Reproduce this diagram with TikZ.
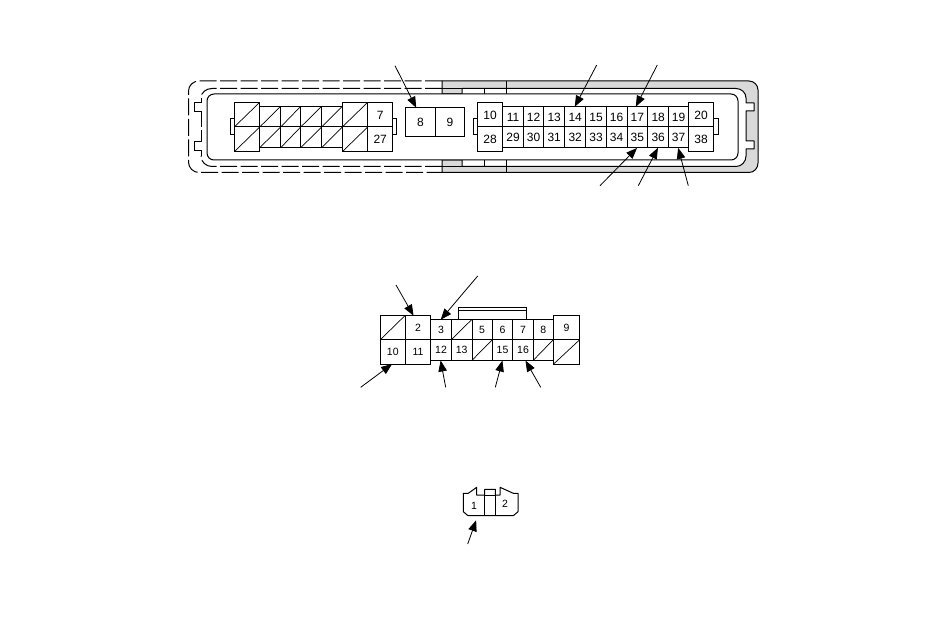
\documentclass[tikz,border=0pt]{standalone}
\usepackage{fontspec}
\setmainfont{Liberation Sans}
\usetikzlibrary{arrows.meta}
\tikzset{
  wire/.style={line width=1pt,black},
  dashline/.style={wire,dash pattern=on 17pt off 3.5pt},
  lead/.style={line width=0.8pt,black,-{Triangle[length=11pt,width=8.5pt]},shorten >=-0.5pt},
  numA/.style={inner sep=0pt,font=\fontsize{12}{12}\selectfont},
  numB/.style={inner sep=0pt,font=\fontsize{10.5}{10.5}\selectfont},
}
% #1 name, #2 x1, #3 y1, #4 x2, #5 y2, #6 label, #7 text style
\newcommand{\pincell}[7]{%
  \draw[wire] (#2,#3) rectangle (#4,#5);
  \node[#7] (#1) at ({(#2+#4)/2},{(#3+#5)/2+0.3}) {#6};
}
\newcommand{\deadcell}[5]{%
  \draw[wire] (#2,#3) rectangle (#4,#5);
  \coordinate (#1) at ({(#2+#4)/2},{(#3+#5)/2});
  \draw[wire,line width=0.7pt] (#2,#5) -- (#4,#3);
}
\begin{document}
\begin{tikzpicture}[x=1pt,y=-1pt]
\useasboundingbox (0,0) rectangle (950,639);
\fill[white] (0,0) rectangle (950,639);
% --- Housing of the upper connector
\draw[wire,fill=black!15,line join=round]
  (442,81) -- (749,81) to[out=0,in=90] (758,90) -- (758,163) to[out=-90,in=0] (749,172.5) -- (442,172.5) -- (442,160)
  -- (462,160) -- (462,166.5) -- (736,166.5) to[out=0,in=-90] (746,156) -- (746,149) -- (754,149) -- (754,141) -- (746,141)
  -- (746,111) -- (754,111) -- (754,103) -- (746,103) -- (746,98) to[out=90,in=0] (736,88.5)
  -- (462,88.5) -- (462,94) -- (442,94) -- cycle;
\draw[wire] (442,88.5) -- (462,88.5) (442,166.5) -- (462,166.5);
\draw[wire] (484,88.5) -- (484,94) (506,81) -- (506,94);
\draw[wire] (484,160) -- (484,166.5) (506,160) -- (506,172.5);
\draw[dashline] (442,81) -- (199,81) to[out=180,in=90] (188.5,91) -- (188.5,162) to[out=-90,in=180] (199,172.5) -- (442,172.5);
\draw[dashline] (442,88.5) -- (212,88.5) to[out=180,in=90] (201,98);
\draw[wire] (201,98) -- (201,102.7) -- (194,102.7) -- (194,112) -- (201,112) -- (201,118);
\draw[dashline,dash pattern=on 9pt off 3.5pt] (201,118) -- (201,136);
\draw[wire] (201,136) -- (201,141.7) -- (194,141.7) -- (194,151) -- (201,151) -- (201,156);
\draw[dashline] (442,166.5) -- (212,166.5) to[out=180,in=-90] (201,156);
\draw[wire,fill=white,rounded corners=7pt] (207,94) rectangle (738,160);
% --- tabs
\draw[wire] (234,118.3) -- (230,118.3) -- (230,135) -- (234,135);
\draw[wire] (392.7,118.3) -- (396.7,118.3) -- (396.7,135) -- (392.7,135);
\draw[wire] (477.3,118.3) -- (473.3,118.3) -- (473.3,135) -- (477.3,135);
\draw[wire] (713.7,118.3) -- (718.3,118.3) -- (718.3,135) -- (713.7,135);
% --- Left block
\deadcell{a1}{234.3}{102.3}{259.7}{127}
\deadcell{a21}{234.3}{127}{259.7}{151.7}
\deadcell{a2}{259.7}{106.3}{280.7}{127}
\deadcell{a3}{280.7}{106.3}{300.7}{127}
\deadcell{a4}{300.7}{106.3}{321.7}{127}
\deadcell{a5}{321.7}{106.3}{342.3}{127}
\deadcell{a22}{259.7}{127}{280.7}{147.7}
\deadcell{a23}{280.7}{127}{300.7}{147.7}
\deadcell{a24}{300.7}{127}{321.7}{147.7}
\deadcell{a25}{321.7}{127}{342.3}{147.7}
\deadcell{a6}{342.3}{102.3}{367.7}{127}
\deadcell{a26}{342.3}{127}{367.7}{151.7}
\pincell{a7}{367.7}{102.3}{392.7}{127}{7}{numA}
\pincell{a27}{367.7}{127}{392.7}{151.7}{27}{numA}
% --- Middle block
\pincell{a8}{405.7}{107.3}{435.3}{136.3}{8}{numA}
\pincell{a9}{435.3}{107.3}{464.7}{136.3}{9}{numA}
% --- Right block
\pincell{a10}{477.3}{102.3}{502.7}{127}{10}{numA}
\pincell{a28}{477.3}{127}{502.7}{151.7}{28}{numA}
\pincell{a11}{502.7}{106.3}{523.3}{127}{11}{numA}
\pincell{a12}{523.3}{106.3}{543.7}{127}{12}{numA}
\pincell{a13}{543.7}{106.3}{564.7}{127}{13}{numA}
\pincell{a14}{564.7}{106.3}{585.7}{127}{14}{numA}
\pincell{a15}{585.7}{106.3}{606.3}{127}{15}{numA}
\pincell{a16}{606.3}{106.3}{627}{127}{16}{numA}
\pincell{a17}{627}{106.3}{647.7}{127}{17}{numA}
\pincell{a18}{647.7}{106.3}{668.7}{127}{18}{numA}
\pincell{a19}{668.7}{106.3}{688.3}{127}{19}{numA}
\pincell{a29}{502.7}{127}{523.3}{147.7}{29}{numA}
\pincell{a30}{523.3}{127}{543.7}{147.7}{30}{numA}
\pincell{a31}{543.7}{127}{564.7}{147.7}{31}{numA}
\pincell{a32}{564.7}{127}{585.7}{147.7}{32}{numA}
\pincell{a33}{585.7}{127}{606.3}{147.7}{33}{numA}
\pincell{a34}{606.3}{127}{627}{147.7}{34}{numA}
\pincell{a35}{627}{127}{647.7}{147.7}{35}{numA}
\pincell{a36}{647.7}{127}{668.7}{147.7}{36}{numA}
\pincell{a37}{668.7}{127}{688.3}{147.7}{37}{numA}
\pincell{a20}{688.3}{102.3}{713.7}{127}{20}{numA}
\pincell{a38}{688.3}{127}{713.7}{151.7}{38}{numA}
% --- Leads of the upper connector
\coordinate (s8) at (395,65.7);   \coordinate (e8) at (416,107.3);
\coordinate (s14) at (596.7,65);  \coordinate (e14) at (575,106.3);
\coordinate (s17) at (657.3,65);  \coordinate (e17) at (636,106.3);
\coordinate (s35) at (600,185.7); \coordinate (e35) at (636.7,148.3);
\coordinate (s36) at (638.3,185.7); \coordinate (e36) at (657.7,148.3);
\coordinate (s37) at (688.3,185.7); \coordinate (e37) at (678.3,148.3);
\foreach \k in {8,14,17,35,36,37} \draw[lead] (s\k) -- (e\k);
% --- Second connector
\draw[wire] (458.3,319.3) -- (458.3,307.3) -- (526.7,307.3) -- (526.7,319.3);
\draw[wire] (458.3,310.7) -- (526.7,310.7);
\deadcell{b1}{380.3}{315.3}{405.3}{339.7}
\pincell{b2}{405.3}{315.3}{430.7}{339.7}{2}{numB}
\pincell{b10}{380.3}{339.7}{405.3}{364.3}{10}{numB}
\pincell{b11}{405.3}{339.7}{430.7}{364.3}{11}{numB}
\pincell{b3}{430.7}{319.3}{451.3}{339.7}{3}{numB}
\deadcell{b4}{451.3}{319.3}{472}{339.7}
\pincell{b5}{472}{319.3}{492.3}{339.7}{5}{numB}
\pincell{b6}{492.3}{319.3}{512.7}{339.7}{6}{numB}
\pincell{b7}{512.7}{319.3}{533.3}{339.7}{7}{numB}
\pincell{b8}{533.3}{319.3}{553.3}{339.7}{8}{numB}
\pincell{b12}{430.7}{339.7}{451.3}{360.3}{12}{numB}
\pincell{b13}{451.3}{339.7}{472}{360.3}{13}{numB}
\deadcell{b14}{472}{339.7}{492.3}{360.3}
\pincell{b15}{492.3}{339.7}{512.7}{360.3}{15}{numB}
\pincell{b16}{512.7}{339.7}{533.3}{360.3}{16}{numB}
\deadcell{b17}{533.3}{339.7}{553.3}{360.3}
\pincell{b9}{553.3}{315.3}{579.7}{339.7}{9}{numB}
\deadcell{b18}{553.3}{339.7}{579.7}{364.3}
\coordinate (t2) at (396,285);      \coordinate (h2) at (413.3,315.3);
\coordinate (t3) at (477.7,276);    \coordinate (h3) at (441,319.3);
\coordinate (t10) at (360.7,387.3); \coordinate (h10) at (391.7,364.3);
\coordinate (t12) at (445.7,387.3); \coordinate (h12) at (440.7,361);
\coordinate (t15) at (495.3,387.3); \coordinate (h15) at (502.3,361);
\coordinate (t16) at (540.7,387.3); \coordinate (h16) at (525.7,361);
\foreach \k in {2,3,10,12,15,16} \draw[lead] (t\k) -- (h\k);
% --- Third connector
\draw[wire,line join=round] (468,515.7) -- (463.3,511.7) -- (463.3,493.3) -- (468.3,493.3) -- (476.7,487.3) -- (476.7,495) -- (484.7,495)
  -- (484.7,489.3) -- (495.3,489.3) -- (495.3,495) -- (500,495) -- (500,487.3) -- (513.3,493.3) -- (518,493.3) -- (518,511.7) -- (513.3,515.7) -- cycle;
\draw[wire] (484.7,495) -- (484.7,515.7) (495.3,495) -- (495.3,515.7) (484.7,495) -- (495.3,495);
\node[numB] (c1) at (474,505.7) {1};
\node[numB] (c2) at (505,504.3) {2};
\coordinate (u1) at (467.7,544); \coordinate (v1) at (476,520.7);
\draw[lead] (u1) -- (v1);
\end{tikzpicture}
\end{document}
